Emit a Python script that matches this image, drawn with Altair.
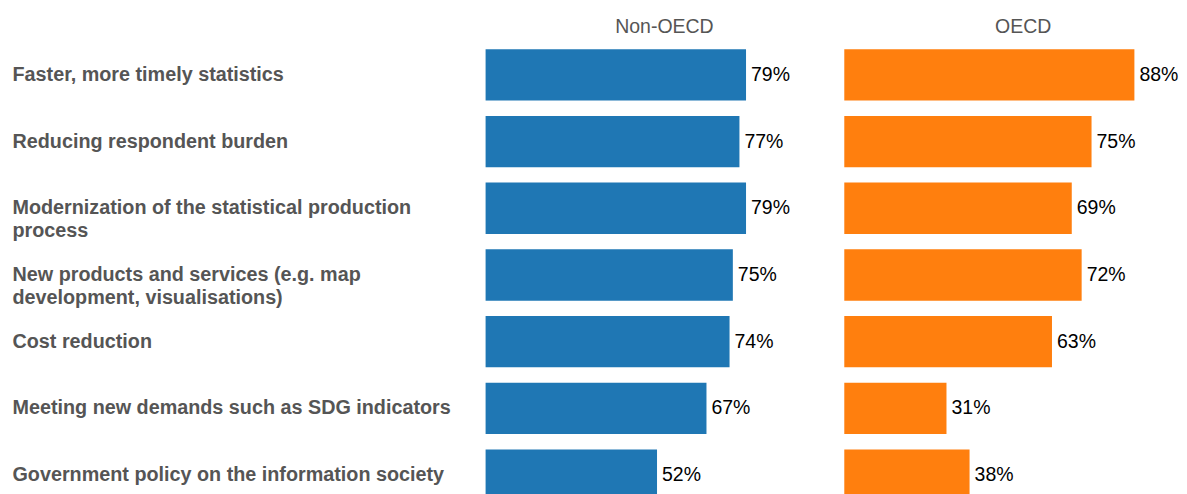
import altair as alt
import pandas as pd

categories = [
    "Faster, more timely statistics",
    "Reducing respondent burden",
    "Modernization of the statistical production|process",
    "New products and services (e.g. map|development, visualisations)",
    "Cost reduction",
    "Meeting new demands such as SDG indicators",
    "Government policy on the information society",
]
groups = ["Non-OECD", "OECD"]
non_oecd = [79, 77, 79, 75, 74, 67, 52]
oecd = [88, 75, 69, 72, 63, 31, 38]
colors = ["#1f77b4", "#ff7f0e"]
title_text = "Drivers of big data use (% of survey respondents)"

rows = []
for g, vals in zip(groups, [non_oecd, oecd]):
    for c, v in zip(categories, vals):
        rows.append({"group": g, "category": c, "value": v})
df = pd.DataFrame(rows)

FONT = "Arial, Liberation Sans, sans-serif"

y = alt.Y(
    "category:N", sort=categories, title=None,
    scale=alt.Scale(paddingInner=0.23, paddingOuter=0.12),
    axis=alt.Axis(
        labelExpr="split(datum.label, '|')", labelAlign="left", labelPadding=474,
        labelLimit=480, labelFont=FONT, labelFontSize=19.8, labelFontWeight="bold",
        labelColor="#555555", labelLineHeight=23, ticks=False, tickSize=0, domain=False,
    ),
)
x = alt.X("value:Q", scale=alt.Scale(domain=[0, 108.5], nice=False), axis=None)

base = alt.Chart().encode(y=y, x=x)
bars = base.mark_bar().encode(
    color=alt.Color("group:N", scale=alt.Scale(domain=groups, range=colors), legend=None)
)
text = base.mark_text(align="left", dx=5, font=FONT, fontSize=19.5, color="black").encode(
    text="label:N"
).transform_calculate(label="datum.value + '%'")

chart = alt.layer(bars, text, data=df).properties(width=358, height=468).facet(
    column=alt.Column(
        "group:N", sort=groups,
        header=alt.Header(title=None, labelFontSize=19.5, labelColor="#555555", labelFont=FONT, labelPadding=4),
    ),
    spacing=1,
).properties(
    title=alt.TitleParams(title_text, fontSize=15, font=FONT, color="#555555", fontWeight="normal",
                          anchor="start", frame="bounds", dx=527, offset=21),
    padding={"left": 4, "top": -28, "right": -23, "bottom": 0},
).configure_view(stroke=None)

chart.save("out.html", embed_options={"renderer": "svg", "actions": False})
